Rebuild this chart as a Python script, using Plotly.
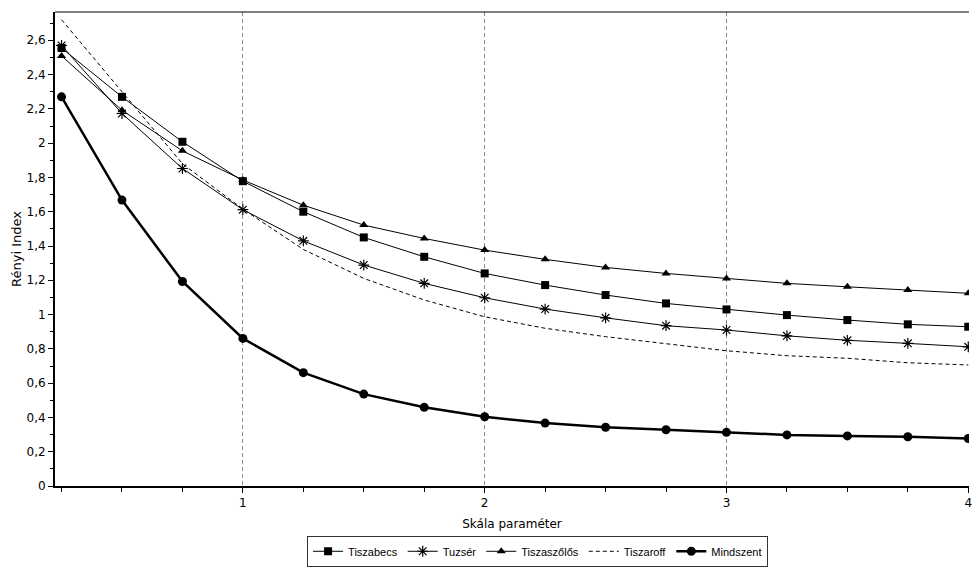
import plotly.graph_objects as go

x_scale = [0.25, 0.5, 0.75, 1.0, 1.25, 1.5, 1.75, 2.0, 2.25, 2.5, 2.75, 3.0, 3.25, 3.5, 3.75, 4.0]

tiszabecs = [2.555, 2.27, 2.008, 1.778, 1.600, 1.450, 1.337, 1.240, 1.172, 1.114, 1.065, 1.030, 0.997, 0.968, 0.943, 0.929]
tuzser = [2.570, 2.173, 1.852, 1.612, 1.430, 1.289, 1.182, 1.098, 1.032, 0.981, 0.935, 0.910, 0.876, 0.850, 0.832, 0.812]
tiszaszolos = [2.509, 2.192, 1.955, 1.785, 1.638, 1.522, 1.444, 1.376, 1.322, 1.275, 1.240, 1.211, 1.182, 1.162, 1.143, 1.124]
tiszaroff = [2.72, 2.30, 1.88, 1.615, 1.38, 1.211, 1.085, 0.987, 0.920, 0.871, 0.832, 0.789, 0.760, 0.745, 0.719, 0.706]
mindszent = [2.270, 1.668, 1.193, 0.861, 0.661, 0.536, 0.459, 0.404, 0.367, 0.343, 0.328, 0.313, 0.298, 0.292, 0.287, 0.277]

y_tickvals = [0, 0.2, 0.4, 0.6, 0.8, 1.0, 1.2, 1.4, 1.6, 1.8, 2.0, 2.2, 2.4, 2.6]
y_ticktext = ["0", "0,2", "0,4", "0,6", "0,8", "1", "1,2", "1,4", "1,6", "1,8", "2", "2,2", "2,4", "2,6"]
x_tickvals = [1, 2, 3, 4]
x_ticktext = ["1", "2", "3", "4"]

FONT = "DejaVu Sans, Verdana, sans-serif"
LFONT = "Liberation Sans, Arial, sans-serif"

fig = go.Figure()
fig.add_trace(go.Scatter(x=x_scale, y=tiszabecs, name="Tiszabecs", mode="lines+markers",
                         line=dict(color="black", width=1),
                         marker=dict(symbol="square", size=8, color="black")))
fig.add_trace(go.Scatter(x=x_scale, y=tuzser, name="Tuzsér", mode="lines+markers",
                         line=dict(color="black", width=1),
                         marker=dict(symbol="asterisk-open", size=9, color="black",
                                     line=dict(color="black", width=1.2))))
fig.add_trace(go.Scatter(x=x_scale, y=tiszaszolos, name="Tiszaszőlős", mode="lines+markers",
                         line=dict(color="black", width=1),
                         marker=dict(symbol="triangle-up", size=8, color="black")))
fig.add_trace(go.Scatter(x=x_scale, y=tiszaroff, name="Tiszaroff", mode="lines",
                         line=dict(color="black", width=1, dash="4px,3px")))
fig.add_trace(go.Scatter(x=x_scale, y=mindszent, name="Mindszent", mode="lines+markers",
                         line=dict(color="black", width=2.5),
                         marker=dict(symbol="circle", size=9, color="black")))

fig.update_layout(
    width=972, height=580,
    margin=dict(l=55, r=3, t=12, b=94, autoexpand=False),
    paper_bgcolor="white", plot_bgcolor="white",
    font=dict(family=FONT, size=12, color="black"),
    showlegend=True,
    legend=dict(orientation="h", x=0.528, xanchor="center", y=-0.105, yanchor="top",
                bordercolor="#333333", borderwidth=1, bgcolor="white",
                font=dict(family=LFONT, size=11, color="black"),
                itemwidth=30, tracegroupgap=0),
    shapes=[dict(type="line", xref="paper", yref="paper", x0=0, x1=1, y0=1, y1=1,
                 line=dict(color="black", width=1))],
)

fig.update_xaxes(
    range=[0.223, 4.003],
    automargin=False,
    tickvals=x_tickvals, ticktext=x_ticktext,
    ticklabeloverflow="allow",
    ticks="outside", ticklen=5, tickwidth=1, tickcolor="black",
    minor=dict(dtick=0.25, tick0=0, ticks="outside", ticklen=4, tickcolor="black", showgrid=False),
    showgrid=True, gridcolor="#8c8c8c", gridwidth=1, griddash="4px,3px",
    showline=True, linecolor="black", linewidth=2,
    zeroline=False,
    tickfont=dict(family=FONT, size=12),
    title=dict(text="Skála paraméter", font=dict(family=FONT, size=12), standoff=10),
)
fig.update_yaxes(
    range=[0, 2.765],
    automargin=False,
    tickvals=y_tickvals, ticktext=y_ticktext,
    ticks="outside", ticklen=5, tickwidth=1, tickcolor="black",
    minor=dict(dtick=0.1, tick0=0, ticks="outside", ticklen=3, tickcolor="black", showgrid=False),
    showgrid=False,
    showline=True, linecolor="black", linewidth=2,
    zeroline=False,
    tickfont=dict(family=FONT, size=12),
    title=dict(text="Rényi Index", font=dict(family=FONT, size=13), standoff=2),
)

fig.write_html("out.html",
               config={"displayModeBar": False},
               post_script="document.body.style.margin='0px';document.body.style.overflow='hidden';")
